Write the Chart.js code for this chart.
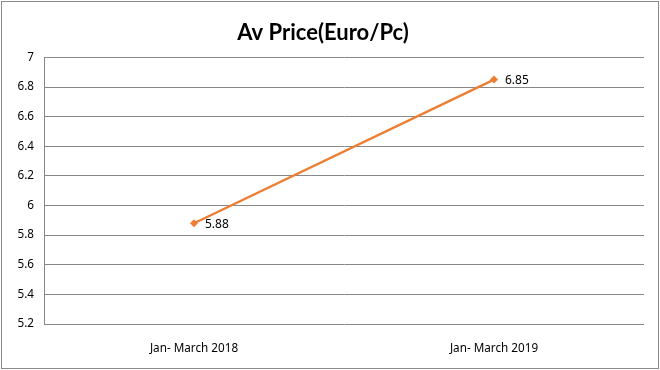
<!DOCTYPE html>
<html><head><meta charset="utf-8">
<script src="https://cdn.jsdelivr.net/npm/chart.js@4"></script>
<style>
html,body{margin:0;padding:0;background:#fff;}
#wrap{position:absolute;left:1px;top:1px;width:656px;height:366px;border:1px solid #8a8a8a;background:#fff;}
canvas{display:block;}
</style></head>
<body><div id="wrap"><canvas id="c" width="656" height="366"></canvas></div>
<script>
const categories = ["Jan- March 2018", "Jan- March 2019"];
const avPrice = [5.88, 6.85];
const yMin = 5.2, yMax = 7, yStep = 0.2;
const titleText = "Av Price(Euro/Pc)";

const labelPlugin = {
  id: 'valLabels',
  afterDatasetsDraw(chart) {
    const ctx = chart.ctx;
    const meta = chart.getDatasetMeta(0);
    ctx.save();
    ctx.font = '12px "Noto Sans", sans-serif';
    ctx.fillStyle = '#000';
    ctx.textBaseline = 'middle';
    ctx.textAlign = 'left';
    meta.data.forEach((pt, i) => {
      ctx.fillText(avPrice[i].toFixed(2), pt.x + 11, pt.y + 1);
    });
    ctx.restore();
  }
};

new Chart(document.getElementById('c'), {
  type: 'line',
  data: {
    labels: categories,
    datasets: [{
      data: avPrice,
      borderColor: '#ED7D31',
      backgroundColor: '#ED7D31',
      borderWidth: 2.25,
      pointStyle: 'rectRot',
      pointRadius: 4,
      pointBorderWidth: 0,
      tension: 0
    }]
  },
  options: {
    responsive: false,
    animation: false,
    layout: { padding: { top: 0, right: 14, bottom: 0, left: 0 } },
    plugins: {
      legend: { display: false },
      tooltip: { enabled: false },
      title: {
        display: true,
        text: titleText,
        color: '#000',
        font: { family: 'Lato', size: 22, weight: 'bold', lineHeight: 1.2 },
        padding: { top: 18, bottom: 11 }
      }
    },
    scales: {
      x: {
        offset: true,
        grid: { display: false, drawTicks: false },
        border: { display: false },
        ticks: { color: '#000', font: { family: '"Noto Sans"', size: 11.7 }, padding: 18, maxRotation: 0 },
        afterFit(s) { s.height = 44; }
      },
      y: {
        min: yMin, max: yMax,
        grid: { color: '#888', lineWidth: 1, drawTicks: false },
        border: { display: true, color: '#888', width: 1 },
        ticks: { stepSize: yStep, color: '#000', font: { family: '"Noto Sans"', size: 11.7 }, padding: 10,
          callback: v => +v.toFixed(1) + '' },
        afterFit(s) { s.width = 42; }
      }
    }
  },
  plugins: [labelPlugin]
});
</script></body></html>
